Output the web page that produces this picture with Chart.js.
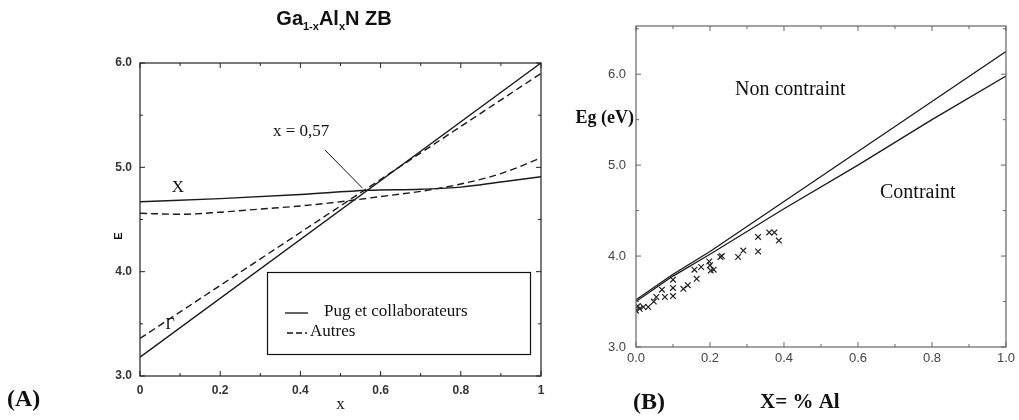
<!DOCTYPE html>
<html>
<head>
<meta charset="utf-8">
<script src="https://cdn.jsdelivr.net/npm/chart.js@4.4.0/dist/chart.umd.min.js"></script>
<style>
  body { margin: 0; background: #fff; }
  #wrap { position: relative; width: 1019px; height: 420px; background: #fff; }
  #chartA { position: absolute; left: 0; top: 0; }
  #chartB { position: absolute; left: 560px; top: 0; }
</style>
</head>
<body>
<div id="wrap">
  <canvas id="chartA" width="560" height="420"></canvas>
  <canvas id="chartB" width="459" height="420"></canvas>
</div>
<script>
// ---- panel (A) : Ga1-xAlxN ZB, gaps at Gamma and X ----
const gammaX = [0, 1];
const gammaPug = [3.18, 6.0];
const gammaAutres = [3.36, 5.9];

const valleyXPugX = [0, 0.2, 0.4, 0.57, 0.7, 0.8, 0.9, 1];
const valleyXPug = [4.67, 4.70, 4.74, 4.78, 4.79, 4.81, 4.86, 4.91];
const valleyXAutresX = [0, 0.1, 0.2, 0.3, 0.4, 0.5, 0.6, 0.7, 0.8, 0.9, 1];
const valleyXAutres = [4.56, 4.55, 4.57, 4.60, 4.63, 4.67, 4.72, 4.77, 4.84, 4.94, 5.09];

const legendA = ['Pug et collaborateurs', 'Autres'];

// ---- panel (B) : Eg vs % Al ----
const bX = [0, 0.1, 0.2, 0.4, 0.6, 0.8, 1];
const nonContraint = [3.52, 3.8, 4.05, 4.6, 5.15, 5.7, 6.25];
const contraint = [3.5, 3.78, 4.02, 4.52, 5.0, 5.5, 5.98];

const measX = [0, 0.005, 0.01, 0.02, 0.033, 0.048, 0.055, 0.07, 0.078, 0.1, 0.1, 0.1,
  0.128, 0.14, 0.158, 0.164, 0.176, 0.198, 0.2, 0.202, 0.21, 0.228, 0.232,
  0.276, 0.29, 0.33, 0.33, 0.36, 0.374, 0.386];
const measEg = [3.4, 3.45, 3.42, 3.44, 3.44, 3.5, 3.55, 3.63, 3.55, 3.74, 3.65, 3.56,
  3.64, 3.68, 3.85, 3.75, 3.88, 3.94, 3.9, 3.84, 3.85, 3.99, 4.0,
  3.99, 4.06, 4.21, 4.05, 4.26, 4.26, 4.17];

function pts(xs, ys) {
  return xs.map((x, i) => ({ x: x, y: ys[i] }));
}

const serif = '"Liberation Serif", "DejaVu Serif", serif';
const sans = '"Liberation Sans", Arial, sans-serif';

// box round the plot with small ticks pointing inwards
function framePlugin(color, xMinor, yMinor, xMajor, yMajor) {
  return {
    id: 'frame',
    afterDraw(chart) {
      const ctx = chart.ctx;
      const a = chart.chartArea;
      const xs = chart.scales.x, ys = chart.scales.y;
      ctx.save();
      ctx.strokeStyle = color;
      ctx.lineWidth = 1.2;
      ctx.strokeRect(a.left, a.top, a.right - a.left, a.bottom - a.top);
      ctx.lineWidth = 1;
      ctx.beginPath();
      for (let v = xs.min; v <= xs.max + 1e-9; v += xMinor) {
        const p = xs.getPixelForValue(v);
        const major = Math.abs(v / xMajor - Math.round(v / xMajor)) < 1e-6;
        const len = major ? 5 : 3;
        ctx.moveTo(p, a.bottom); ctx.lineTo(p, a.bottom - len);
        ctx.moveTo(p, a.top); ctx.lineTo(p, a.top + len);
      }
      for (let v = ys.min; v <= ys.max + 1e-9; v += yMinor) {
        const p = ys.getPixelForValue(v);
        const major = Math.abs(v / yMajor - Math.round(v / yMajor)) < 1e-6;
        const len = major ? 5 : 3;
        ctx.moveTo(a.left, p); ctx.lineTo(a.left + len, p);
        ctx.moveTo(a.right, p); ctx.lineTo(a.right - len, p);
      }
      ctx.stroke();
      ctx.restore();
    }
  };
}

const textsA = {
  id: 'textsA',
  afterDraw(chart) {
    const ctx = chart.ctx;
    const xs = chart.scales.x, ys = chart.scales.y;
    const a = chart.chartArea;
    ctx.save();
    ctx.fillStyle = '#111';
    ctx.strokeStyle = '#111';
    ctx.textBaseline = 'alphabetic';

    // title with subscripts
    const parts = [['Ga', 20, 0], ['1-x', 11, 5], ['Al', 20, 0], ['x', 11, 5], ['N ZB', 20, 0]];
    let w = 0;
    parts.forEach(p => { ctx.font = 'bold ' + p[1] + 'px ' + sans; w += ctx.measureText(p[0]).width; });
    let tx = 334 - w / 2;
    parts.forEach(p => {
      ctx.font = 'bold ' + p[1] + 'px ' + sans;
      ctx.fillText(p[0], tx, 25 + p[2]);
      tx += ctx.measureText(p[0]).width;
    });

    ctx.textBaseline = 'middle';
    ctx.textAlign = 'center';
    ctx.font = '17px ' + serif;
    ctx.fillText('X', 178, 188);
    ctx.font = '16px ' + serif;
    ctx.fillText('\u0393', 170, 325);

    ctx.textAlign = 'left';
    ctx.font = '17px ' + serif;
    ctx.fillText('x = 0,57', 273, 132);
    ctx.lineWidth = 1;
    ctx.beginPath();
    ctx.moveTo(325, 150);
    ctx.lineTo(xs.getPixelForValue(0.555), ys.getPixelForValue(4.8));
    ctx.stroke();

    // legend box
    ctx.lineWidth = 1.2;
    ctx.strokeRect(267.5, 272.5, 263, 82);
    ctx.lineWidth = 1.3;
    ctx.beginPath();
    ctx.moveTo(285, 313); ctx.lineTo(308, 313);
    ctx.stroke();
    ctx.setLineDash([6, 3]);
    ctx.beginPath();
    ctx.moveTo(287, 333); ctx.lineTo(307, 333);
    ctx.stroke();
    ctx.setLineDash([]);
    ctx.font = '17px ' + serif;
    ctx.fillText(legendA[0], 324, 312);
    ctx.fillText(legendA[1], 310, 332);

    // axis titles and panel letter
    ctx.textAlign = 'center';
    ctx.font = '17px ' + serif;
    ctx.fillText('x', (a.left + a.right) / 2, 405);
    ctx.save();
    ctx.translate(119, 236);
    ctx.rotate(-Math.PI / 2);
    ctx.font = 'bold 11px ' + sans;
    ctx.fillText('E', 0, 0);
    ctx.restore();
    ctx.textAlign = 'left';
    ctx.font = 'bold 24px ' + serif;
    ctx.fillText('(A)', 7, 400);
    ctx.restore();
  }
};

const textsB = {
  id: 'textsB',
  afterDraw(chart) {
    const ctx = chart.ctx;
    ctx.save();
    ctx.fillStyle = '#111';
    ctx.textBaseline = 'middle';
    ctx.textAlign = 'right';
    ctx.font = 'bold 18px ' + serif;
    ctx.fillText('Eg (eV)', 74, 118);
    ctx.textAlign = 'left';
    ctx.font = '20px ' + serif;
    ctx.fillText('Non contraint', 175, 90);
    ctx.fillText('Contraint', 320, 193);
    ctx.font = 'bold 24px ' + serif;
    ctx.fillText('(B)', 73, 403);
    ctx.font = 'bold 21px ' + serif;
    ctx.fillText('X= % Al', 200, 403);
    ctx.restore();
  }
};

const solid = { borderColor: '#1a1a1a', borderWidth: 1.4, pointRadius: 0, showLine: true, fill: false };

new Chart(document.getElementById('chartA'), {
  type: 'scatter',
  data: {
    datasets: [
      { ...solid, label: 'Gamma ' + legendA[0], data: pts(gammaX, gammaPug) },
      { ...solid, label: 'Gamma ' + legendA[1], borderDash: [7, 4], data: pts(gammaX, gammaAutres) },
      { ...solid, label: 'X ' + legendA[0], tension: 0.4, cubicInterpolationMode: 'monotone', data: pts(valleyXPugX, valleyXPug) },
      { ...solid, label: 'X ' + legendA[1], borderDash: [7, 4], tension: 0.4, cubicInterpolationMode: 'monotone', data: pts(valleyXAutresX, valleyXAutres) }
    ]
  },
  options: {
    responsive: false,
    animation: false,
    layout: { padding: { left: 100, top: 63, right: 19, bottom: 14 } },
    plugins: { legend: { display: false }, tooltip: { enabled: false } },
    scales: {
      x: {
        type: 'linear', min: 0, max: 1,
        afterFit: s => { s.height = 30; },
        grid: { display: false, drawTicks: false },
        border: { display: false },
        ticks: {
          stepSize: 0.2, padding: 7, color: '#333',
          font: { family: sans, size: 12, weight: 'bold' },
          callback: v => (v === 0 || v === 1) ? String(v) : v.toFixed(1)
        }
      },
      y: {
        type: 'linear', min: 3, max: 6,
        afterFit: s => { s.width = 40; },
        grid: { display: false, drawTicks: false },
        border: { display: false },
        ticks: {
          stepSize: 1, padding: 8, color: '#333',
          font: { family: sans, size: 12, weight: 'bold' },
          callback: v => v.toFixed(1)
        }
      }
    }
  },
  plugins: [framePlugin('#222', 0.1, 0.5, 0.2, 1), textsA]
});

new Chart(document.getElementById('chartB'), {
  type: 'scatter',
  data: {
    datasets: [
      { ...solid, label: 'Non contraint', borderWidth: 1.3, data: pts(bX, nonContraint) },
      { ...solid, label: 'Contraint', borderWidth: 1.3, data: pts(bX, contraint) },
      {
        label: 'Mesures', data: pts(measX, measEg), showLine: false,
        pointStyle: 'crossRot', pointRadius: 4, borderColor: '#222', borderWidth: 1.2,
        backgroundColor: '#222'
      }
    ]
  },
  options: {
    responsive: false,
    animation: false,
    layout: { padding: { left: 36, top: 26, right: 11, bottom: 43 } },
    plugins: { legend: { display: false }, tooltip: { enabled: false } },
    scales: {
      x: {
        type: 'linear', min: 0, max: 1,
        afterFit: s => { s.height = 30; },
        grid: { display: false, drawTicks: false },
        border: { display: false },
        ticks: {
          stepSize: 0.2, padding: 4, color: '#444',
          font: { family: sans, size: 13 },
          callback: v => v.toFixed(1)
        }
      },
      y: {
        type: 'linear', min: 3, max: 6.53,
        afterFit: s => { s.width = 40; },
        grid: { display: false, drawTicks: false },
        border: { display: false },
        ticks: {
          stepSize: 1, padding: 10, color: '#444', includeBounds: false,
          font: { family: sans, size: 13 },
          callback: v => v.toFixed(1)
        }
      }
    }
  },
  plugins: [framePlugin('#666', 0.1, 0.5, 0.2, 1), textsB]
});
</script>
</body>
</html>
